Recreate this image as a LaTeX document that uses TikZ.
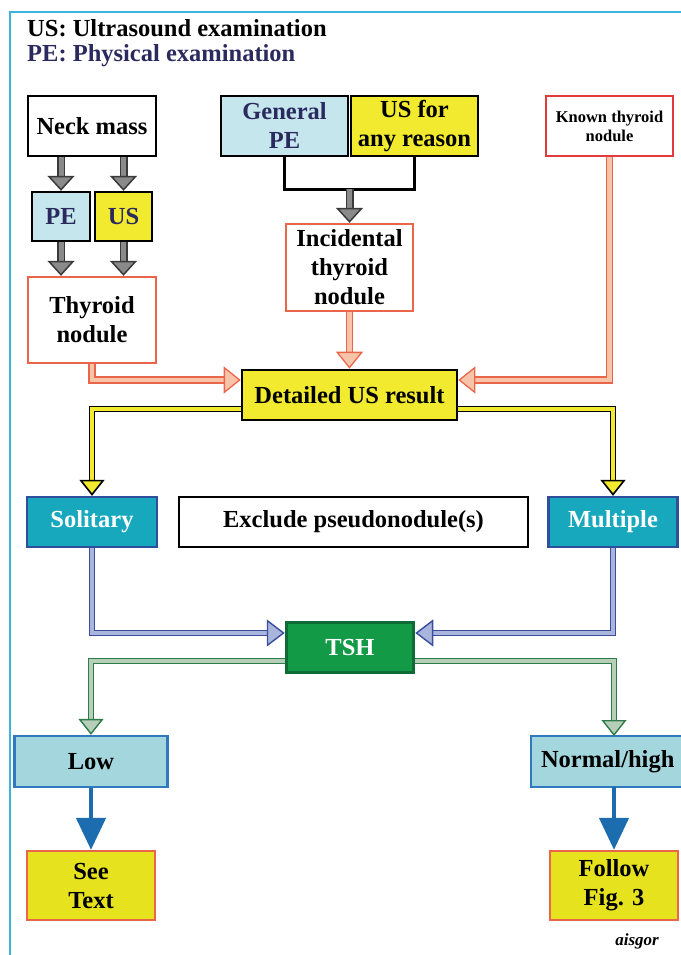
\documentclass[tikz,border=0pt]{standalone}
\usepackage{fontspec}
\setmainfont{Liberation Serif}
\usetikzlibrary{arrows.meta,calc}
\definecolor{framec}{HTML}{3DB3E0}
\definecolor{navy}{HTML}{2A2A5E}
\definecolor{lblue}{HTML}{C6E6EE}
\definecolor{yel}{HTML}{F2EA2E}
\definecolor{orng}{HTML}{EA664A}
\definecolor{orngin}{HTML}{F7C3A9}
\definecolor{redb}{HTML}{E33B3B}
\definecolor{teal}{HTML}{17A8BE}
\definecolor{tealb}{HTML}{2F4F9C}
\definecolor{tshg}{HTML}{129A47}
\definecolor{tshb}{HTML}{0E6B36}
\definecolor{lowf}{HTML}{A3D7DD}
\definecolor{lowb}{HTML}{2F7ABF}
\definecolor{barr}{HTML}{1B6DB0}
\definecolor{yel2}{HTML}{E6E31E}
\definecolor{grayf}{HTML}{8A8A8A}
\definecolor{grayb}{HTML}{3A3A3A}
\definecolor{lavb}{HTML}{3A4E9C}
\definecolor{lavf}{HTML}{A9B5DD}
\definecolor{grnb}{HTML}{2F7C4B}
\definecolor{grnf}{HTML}{B7CFB9}
\begin{document}
\begin{tikzpicture}[x=1pt,y=-1pt,
  box/.style={draw, line width=2.3pt, inner sep=0pt, align=center,
    font=\bfseries\fontsize{24.5}{29}\selectfont},
  harrow/.style n args={6}{draw=#1, double=#2, line width=#3, double distance=#4,
    -{Triangle[length=#6, width=#5, fill=#2, line width=#3]}},
  grarrow/.style={harrow={grayb}{grayf}{1.5pt}{5pt}{27pt}{15pt}},
  oarrow/.style={harrow={orng}{orngin}{1.3pt}{4.5pt}{27pt}{17pt}},
  yarrow/.style={harrow={black}{yel}{1.6pt}{3.2pt}{25pt}{16pt}},
  larrow/.style={harrow={lavb}{lavf}{1.4pt}{4pt}{27pt}{18pt}},
  garrow/.style={harrow={grnb}{grnf}{1.4pt}{4pt}{25pt}{16pt}},
  barrow/.style={draw=barr, line width=4.5pt, -{Triangle[length=32pt, width=29pt]}},
]
\useasboundingbox (0,0) rectangle (680,955);
\draw[framec, line width=1.5pt] (10,960) -- (10,12) -- (685,12);

\node[anchor=base west, inner sep=0pt, font=\bfseries\fontsize{24.5}{29}\selectfont] (h1) at (27,37) {US: Ultrasound examination};
\node[anchor=base west, inner sep=0pt, font=\bfseries\fontsize{24.5}{29}\selectfont, text=navy] (h2) at (27,62) {PE: Physical examination};

\node[box, fill=white, minimum width=128pt, minimum height=60pt] (neck) at (92,126) {Neck mass};
\node[box, fill=lblue, text=navy, minimum width=58pt, minimum height=49pt] (pe) at (61,216.5) {PE};
\node[box, fill=yel, text=navy, minimum width=57pt, minimum height=49pt] (us) at (123.5,216.5) {US};
\node[box, draw=orng, fill=white, minimum width=128pt, minimum height=86pt] (thyroid) at (92,320) {Thyroid\\nodule};

\node[box, fill=lblue, text=navy, minimum width=127pt, minimum height=60pt] (gpe) at (284.5,126) {General\\PE};
\node[box, fill=yel, minimum width=127pt, minimum height=60pt] (usany) at (414.5,126) {US for\\any reason};
\node[box, draw=orng, fill=white, minimum width=127pt, minimum height=87pt] (incid) at (349.5,267.5) {Incidental\\thyroid\\nodule};
\node[box, draw=redb, fill=white, minimum width=127pt, minimum height=60pt,
  font=\bfseries\fontsize{16.5}{19}\selectfont] (known) at (609.5,126) {Known thyroid\\nodule};

\node[box, fill=yel, line width=2.6pt, minimum width=215pt, minimum height=50pt] (detail) at (349.5,395) {Detailed US result};

\node[box, fill=teal, draw=tealb, text=white, minimum width=130pt, minimum height=50pt] (sol) at (92,522) {Solitary};
\node[box, fill=white, minimum width=349pt, minimum height=50pt] (excl) at (353.5,522) {Exclude pseudonodule(s)};
\node[box, fill=teal, draw=tealb, text=white, minimum width=129pt, minimum height=50pt] (mult) at (613,522) {Multiple};

\node[box, fill=tshg, draw=tshb, line width=3.5pt, text=white, minimum width=127pt, minimum height=50pt] (tsh) at (350,647.5) {TSH};

\node[box, fill=lowf, draw=lowb, minimum width=153pt, minimum height=51pt] (low) at (91,761.5) {Low};
\node[box, fill=lowf, draw=lowb, minimum width=152pt, minimum height=51pt, text width=152pt, align=left] (normal) at (607,761.5) {\hspace*{10pt}Normal/high};

\node[box, fill=yel2, draw=orng, minimum width=128pt, minimum height=69pt] (see) at (91,885.5) {See\\Text};
\node[box, fill=yel2, draw=orng, minimum width=128pt, minimum height=69pt] (follow) at (614,885.5) {Follow\\Fig. 3};

\node[anchor=base, font=\bfseries\itshape\fontsize{17}{20}\selectfont] (sig) at (637,945) {aisgor};

% coordinates
\coordinate (dWa) at ([yshift=15pt]detail.west);
\coordinate (dEa) at ([yshift=15pt]detail.east);
\coordinate (dWb) at ([yshift=-14pt]detail.west);
\coordinate (dEb) at ([yshift=-14pt]detail.east);
\coordinate (tWa) at ([yshift=14.5pt]tsh.west);
\coordinate (tEa) at ([yshift=14.5pt]tsh.east);
\coordinate (tWb) at ([yshift=-13.5pt]tsh.west);
\coordinate (tEb) at ([yshift=-13.5pt]tsh.east);
\coordinate (nN) at (614,736);
\coordinate (nS) at (614,787);
\coordinate (brk) at (349.5,189);

% gray arrows
\draw[grarrow] (neck.south -| pe.north) -- (pe.north);
\draw[grarrow] (neck.south -| us.north) -- (us.north);
\draw[grarrow] (pe.south) -- (pe.south |- thyroid.north);
\draw[grarrow] (us.south) -- (us.south |- thyroid.north);
\draw[line width=3pt] (gpe.south) |- (brk) -| (usany.south);
\draw[grarrow] (brk) -- (incid.north);

% orange
\draw[oarrow] (thyroid.south) |- (dWa);
\draw[oarrow] (incid.south) -- (detail.north);
\draw[oarrow] (known.south) |- (dEa);
% yellow
\draw[yarrow] (dWb) -| (sol.north);
\draw[yarrow] (dEb) -| (mult.north);
% lavender
\draw[larrow] (sol.south) |- (tWa);
\draw[larrow] (mult.south) |- (tEa);
% green
\draw[garrow] (tWb) -| (low.north);
\draw[garrow] (tEb) -| (nN);
% blue
\draw[barrow] (low.south) -- (see.north);
\draw[barrow] (nS) -- (follow.north);
\end{tikzpicture}
\end{document}
